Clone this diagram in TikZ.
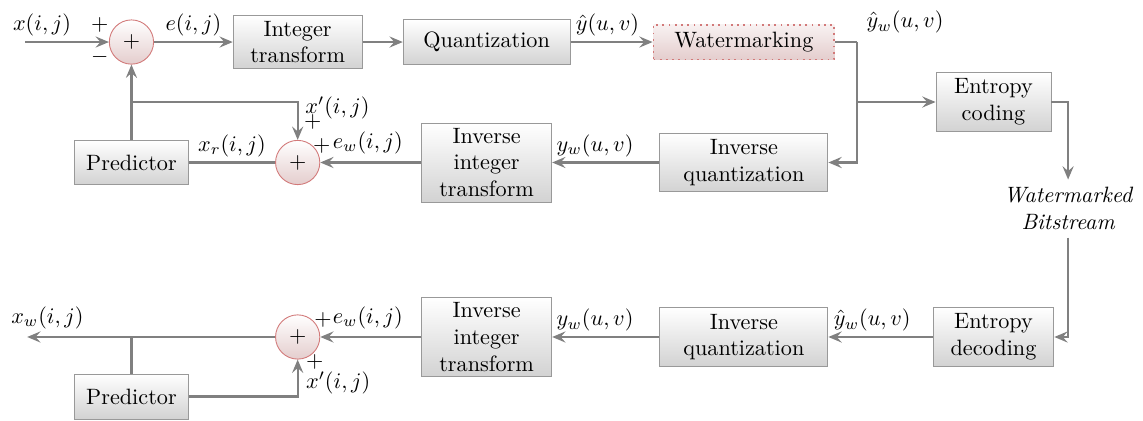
\documentclass[tikz,border=0pt]{standalone}
\usetikzlibrary{arrows.meta, positioning, calc}

\begin{document}
\begin{tikzpicture}[
    % Styles
    block/.style={
        rectangle, draw=gray!80, top color=white, bottom color=gray!35,
        minimum width=#1, minimum height=0.71cm,
        inner sep=1.5pt, align=center
    },
    block/.default=2cm,
    wmbox/.style={
        rectangle, draw=red!50!gray!70, dotted, line width=0.8pt,
        top color=red!30!gray!8, bottom color=red!30!gray!30,
        minimum width=2.86cm, align=center
    },
    adder/.style={
        circle, draw=red!50!gray!70, top color=white, bottom color=red!30!gray!30,
        minimum size=0.7cm, inner sep=0pt
    },
    link/.style={
        draw=gray, line width=1pt
    },
    arrow/.style={
        link, -{Stealth[length=6pt, width=5pt, inset=2.2pt]}
    },
    sig/.style={
        inner sep=2pt
    }
]

\useasboundingbox (0,0) rectangle (18.085,-6.646);

% ── Encoder: forward path ───────────────────────────────────────────────────
\coordinate (in) at (0.40,-0.665);
\node[adder] (sumA) at (2.08,-0.665) {$+$};
\node[block=2.04cm, minimum height=0.84cm] (inttr) at (4.71,-0.665) {Integer\\transform};
\node[block=2.64cm] (quant) at (7.70,-0.665) {Quantization};
\node[wmbox] (wm) at (11.77,-0.665) {Watermarking};
\coordinate (split) at (13.56,-0.665);
\node[block=1.82cm, minimum height=0.92cm] (entcod) at (15.72,-1.614) {Entropy\\coding};
\node[font=\itshape, align=center] (bits) at (16.9,-3.3) {Watermarked\\Bitstream};

\node at (1.58,-0.40) {$+$};
\node at (1.58,-0.90) {$-$};
\node[sig] at (14.32,-0.35) {$\hat{y}_w(u,v)$};

% ── Encoder: reconstruction loop ────────────────────────────────────────────
\node[block=1.80cm] (predA) at (2.08,-2.571) {Predictor};
\node[adder] (sumB) at (4.71,-2.571) {$+$};
\node[block=2.06cm, minimum height=1.25cm] (iitA) at (7.70,-2.571) {Inverse\\integer\\transform};
\node[block=2.66cm, minimum height=0.93cm] (iqA) at (11.77,-2.571) {Inverse\\quantization};
\coordinate (fbA) at (2.08,-1.614);

\node[sig] at (5.34,-1.71) {$x'(i,j)$};
\node at (4.95,-1.93) {$+$};
\node at (5.09,-2.31) {$+$};
\node[sig] at (5.82,-2.26) {$e_w(i,j)$};

% ── Decoder ─────────────────────────────────────────────────────────────────
\node[block=1.91cm, minimum height=0.93cm] (entdec) at (15.72,-5.332) {Entropy\\decoding};
\node[block=2.66cm, minimum height=0.93cm] (iqB) at (11.77,-5.332) {Inverse\\quantization};
\node[block=2.06cm, minimum height=1.25cm] (iitB) at (7.70,-5.332) {Inverse\\integer\\transform};
\node[adder] (sumC) at (4.71,-5.332) {$+$};
\node[block=1.80cm] (predB) at (2.08,-6.274) {Predictor};
\coordinate (out) at (0.43,-5.332);
\coordinate (fbB) at (2.08,-5.332);

\node[sig] at (0.75,-5.03) {$x_w(i,j)$};
\node at (5.11,-5.06) {$+$};
\node[sig] at (5.82,-5.03) {$e_w(i,j)$};
\node at (4.98,-5.72) {$+$};
\node[sig] at (5.35,-6.06) {$x'(i,j)$};

% ── Arrows ──────────────────────────────────────────────────────────────────

% forward path
\draw[arrow] (in) -- node[sig, above, pos=0.2] {$x(i,j)$} (sumA.west);
\draw[arrow] (sumA.east) -- node[sig, above] {$e(i,j)$} (inttr.west);
\draw[arrow] (inttr.east) -- (quant.west);
\draw[arrow] (quant.east) -- node[sig, above, pos=0.45] {$\hat{y}(u,v)$} (wm.west);
\draw[link] (wm.east) -- (split);
\draw[arrow] (split) |- (iqA.east);
\draw[arrow] (split |- entcod.west) -- (entcod.west);
\draw[arrow] (entcod.east) -| (bits.north);

% reconstruction loop
\draw[arrow] (iqA.west) -- node[sig, above, pos=0.6] {$y_w(u,v)$} (iitA.east);
\draw[arrow] (iitA.west) -- (sumB.east);
\draw[link] (sumB.west) -- node[sig, above] {$x_r(i,j)$} (predA.east);
\draw[arrow] (predA.north) -- (sumA.south);
\draw[arrow] (fbA) -| (sumB.north);

% decoder
\draw[arrow] (bits.south) |- (entdec.east);
\draw[arrow] (entdec.west) -- node[sig, above, pos=0.58] {$\hat{y}_w(u,v)$} (iqB.east);
\draw[arrow] (iqB.west) -- node[sig, above, pos=0.6] {$y_w(u,v)$} (iitB.east);
\draw[arrow] (iitB.west) -- (sumC.east);
\draw[arrow] (sumC.west) -- (out);
\draw[link] (fbB) -- (predB.north);
\draw[arrow] (predB.east) -| (sumC.south);

\end{tikzpicture}
\end{document}
